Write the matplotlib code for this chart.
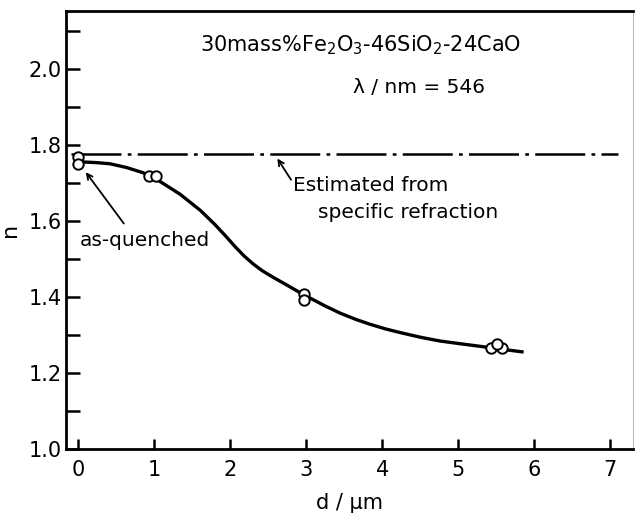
import matplotlib
matplotlib.use("Agg")
import matplotlib.pyplot as plt
from matplotlib.ticker import MultipleLocator

# measured points (d / um, n)
pts_d = [0.0, 0.0, 0.93, 1.03, 2.97, 2.97, 5.43, 5.57, 5.51]
pts_n = [1.767, 1.750, 1.718, 1.718, 1.408, 1.392, 1.266, 1.266, 1.277]

# smooth guide curve
curve_d = [0.05, 0.25, 0.42, 0.64, 0.86, 1.08, 1.34, 1.61, 1.80, 1.94, 2.06,
           2.18, 2.30, 2.42, 2.56, 2.72, 2.92, 3.05, 3.25, 3.45, 3.65, 3.84,
           4.04, 4.24, 4.50, 4.76, 5.02, 5.29, 5.55, 5.86]
curve_n = [1.755, 1.753, 1.750, 1.740, 1.726, 1.703, 1.670, 1.627, 1.590, 1.560,
           1.533, 1.508, 1.487, 1.469, 1.452, 1.434, 1.411, 1.397, 1.376, 1.357,
           1.341, 1.328, 1.316, 1.306, 1.294, 1.284, 1.277, 1.270, 1.263, 1.255]

# estimated from specific refraction
est_n = 1.776
est_d = [-0.1, 7.1]

xticks = [0, 1, 2, 3, 4, 5, 6, 7]
yticks = [1.0, 1.2, 1.4, 1.6, 1.8, 2.0]

plt.rcParams['font.family'] = ['DejaVu Sans']

fig = plt.figure(figsize=(6.35, 5.2), dpi=100)
ax = fig.add_axes([0.104, 0.1365, 0.893, 0.8425])
ax.set_xlim(-0.16, 7.3)
ax.set_ylim(1.0, 2.152)

ax.plot(curve_d, curve_n, color='black', lw=2.4, solid_capstyle='butt',
        solid_joinstyle='round', zorder=2)
ax.plot(pts_d, pts_n, linestyle='none', marker='o', ms=7.5, mfc='white',
        mec='black', mew=1.4, zorder=3)
ax.plot(est_d, [est_n, est_n], color='black', lw=1.8,
        dashes=(20, 2.5, 1.5, 2.5), zorder=1)

ax.set_xticks(xticks)
ax.set_yticks(yticks)
ax.set_xticklabels([str(t) for t in xticks])
ax.set_yticklabels([f"{t:.1f}" for t in yticks])
ax.yaxis.set_minor_locator(MultipleLocator(0.1))
ax.tick_params(axis='y', which='both', direction='in', length=10, width=1.8,
               labelsize=15, pad=3)
ax.tick_params(axis='x', which='major', direction='in', length=7, width=1.8,
               labelsize=15, pad=8)

for s in ['left', 'bottom', 'top']:
    ax.spines[s].set_linewidth(2.0)
ax.spines['right'].set_linewidth(0.8)
ax.spines['right'].set_color('#bbbbbb')

ax.set_xlabel('d / μm', fontsize=15, labelpad=9)
ax.set_ylabel('n', fontsize=16, labelpad=6)

ax.text(0.519, 0.922, '30mass%Fe$_2$O$_3$-46SiO$_2$-24CaO', transform=ax.transAxes,
        ha='center', va='center', fontsize=15)
ax.text(0.623, 0.826, 'λ / nm = 546', transform=ax.transAxes,
        ha='center', va='center', fontsize=14.5)

# label for the dash-dot line
ax.annotate('', xy=(2.62, 1.764), xytext=(2.8, 1.708),
            arrowprops=dict(arrowstyle='->', color='black', lw=1.3,
                            shrinkA=0, shrinkB=0))
ax.text(2.83, 1.692, 'Estimated from', fontsize=14.5, ha='left', va='center')
ax.text(3.15, 1.622, 'specific refraction', fontsize=14.5, ha='left', va='center')

# as-quenched label
ax.annotate('', xy=(0.1, 1.728), xytext=(0.6, 1.593),
            arrowprops=dict(arrowstyle='->', color='black', lw=1.3,
                            shrinkA=0, shrinkB=0))
ax.text(0.02, 1.548, 'as-quenched', fontsize=14.5, ha='left', va='center')

fig.savefig('out.png', dpi=100)
